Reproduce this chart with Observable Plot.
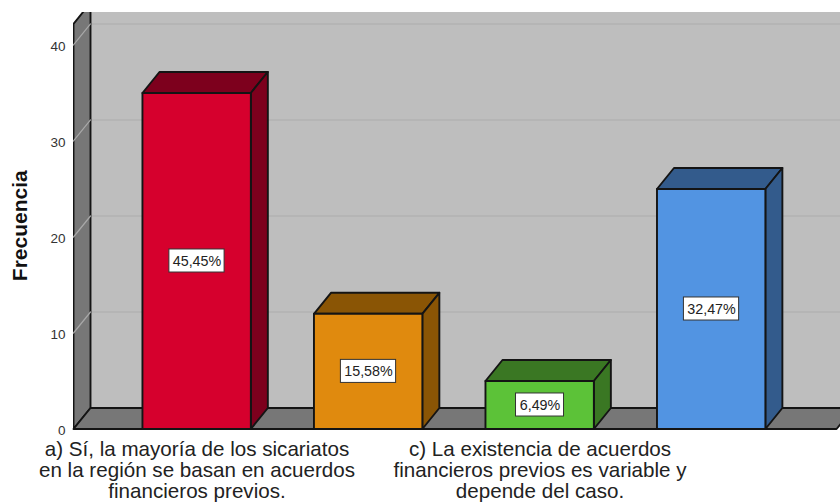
<!DOCTYPE html>
<html><head><meta charset="utf-8">
<script src="https://cdn.jsdelivr.net/npm/d3@7"></script>
<script src="https://cdn.jsdelivr.net/npm/@observablehq/plot@0.6"></script>
<style>html,body{margin:0;padding:0;background:#fff}svg{display:block}</style>
</head><body><div id="chart"></div>
<script>
const categoryLabels = [
  "a) Sí, la mayoría de los sicariatos\nen la región se basan en acuerdos\nfinancieros previos.",
  "",
  "c) La existencia de acuerdos\nfinancieros previos es variable y\ndepende del caso.",
  ""
];
const frequencies = [35, 12, 5, 25];
const percentLabels = ["45,45%", "15,58%", "6,49%", "32,47%"];
const frontColors = ["#d6002d", "#e08a0e", "#5cc238", "#5294e2"];
const sideColors = ["#7d001d", "#8a5505", "#3a7723", "#335b8c"];
const yTicks = [0, 10, 20, 30, 40];

// 3D frame, in scale units
const barLeft = 0.318, barRight = 0.314, depthX = 0.0991, depthY = 2.1875;
const xLeft = -0.72, xRight = 3.752, xFloorEnd = 3.729, wallTop = 42.2, yMax = 43.385;
const ink = "#141414";

const poly = (pts, o = {}) => Plot.line([...pts, pts[0]], {
  x: d => d[0], y: d => d[1], strokeWidth: 1.9, stroke: ink, strokeLinejoin: "round", ...o
});

const marks = [];
// back wall
marks.push(Plot.rect([0], {x1: xLeft + depthX, x2: xRight, y1: depthY, y2: yMax, fill: "#bebebe"}));
// back wall gridlines
marks.push(Plot.ruleY(yTicks.slice(1), {y: d => d + depthY, x1: xLeft + depthX, x2: xRight, stroke: "#b2b2b2", strokeWidth: 1.5}));
// left wall
marks.push(poly([[xLeft, 0], [xLeft + depthX, depthY], [xLeft + depthX, wallTop + depthY], [xLeft, wallTop]], {fill: "#777777", clip: true}));
// wall gridlines
yTicks.slice(1).forEach(t => marks.push(Plot.line([[xLeft, t], [xLeft + depthX, t + depthY]], {
  x: d => d[0], y: d => d[1], stroke: "#a8a8a8", strokeWidth: 1.2
})));
// floor
marks.push(poly([[xLeft, 0], [xFloorEnd, 0], [xFloorEnd + depthX, depthY], [xLeft + depthX, depthY]], {fill: "#777777"}));
// bars
frequencies.forEach((v, i) => {
  const l = i - barLeft, r = i + barRight;
  marks.push(poly([[l, v], [r, v], [r + depthX, v + depthY], [l + depthX, v + depthY]], {fill: sideColors[i]}));
  marks.push(poly([[r, 0], [r + depthX, depthY], [r + depthX, v + depthY], [r, v]], {fill: sideColors[i]}));
  marks.push(poly([[l, 0], [r, 0], [r, v], [l, v]], {fill: frontColors[i]}));
  const hw = (percentLabels[i].length * 7.2 + 12) / 2 / 171.5, hh = 1.2;
  marks.push(Plot.rect([0], {x1: i - hw, x2: i + hw, y1: v / 2 - hh, y2: v / 2 + hh, fill: "#fff", stroke: "#333", strokeWidth: 1}));
});
marks.push(Plot.text(frequencies, {
  x: (d, i) => i, y: d => d / 2, text: (d, i) => percentLabels[i],
  fontSize: 14.3, fill: "#222", dy: 0.5
}));
// axes
marks.push(Plot.axisY({ticks: yTicks, tickSize: 0, tickPadding: 8, label: null, fontSize: 13.5, fill: "#333", dy: 2, anchor: "left"}));
marks.push(Plot.axisX({
  ticks: [0, 2], tickSize: 0, tickPadding: 12, label: null, anchor: "bottom",
  tickFormat: d => categoryLabels[d], fontSize: 20.6, lineHeight: 1.02, fill: "#222", lineAnchor: "top"
}));
marks.push(Plot.text(["Frecuencia"], {
  frameAnchor: "left", textAnchor: "middle", rotate: -90, dx: -53, dy: 5, fontSize: 21, fontWeight: "bold", fill: "#111"
}));

const chart = Plot.plot({
  width: 840, height: 502,
  marginLeft: 73, marginRight: 0, marginTop: 12, marginBottom: 73.5,
  style: {fontFamily: "'Liberation Sans', Arial, sans-serif", background: "#fff", overflow: "hidden"},
  x: {type: "linear", domain: [xLeft, xRight], axis: null},
  y: {type: "linear", domain: [0, yMax], axis: null},
  marks
});
document.getElementById("chart").append(chart);
</script></body></html>
